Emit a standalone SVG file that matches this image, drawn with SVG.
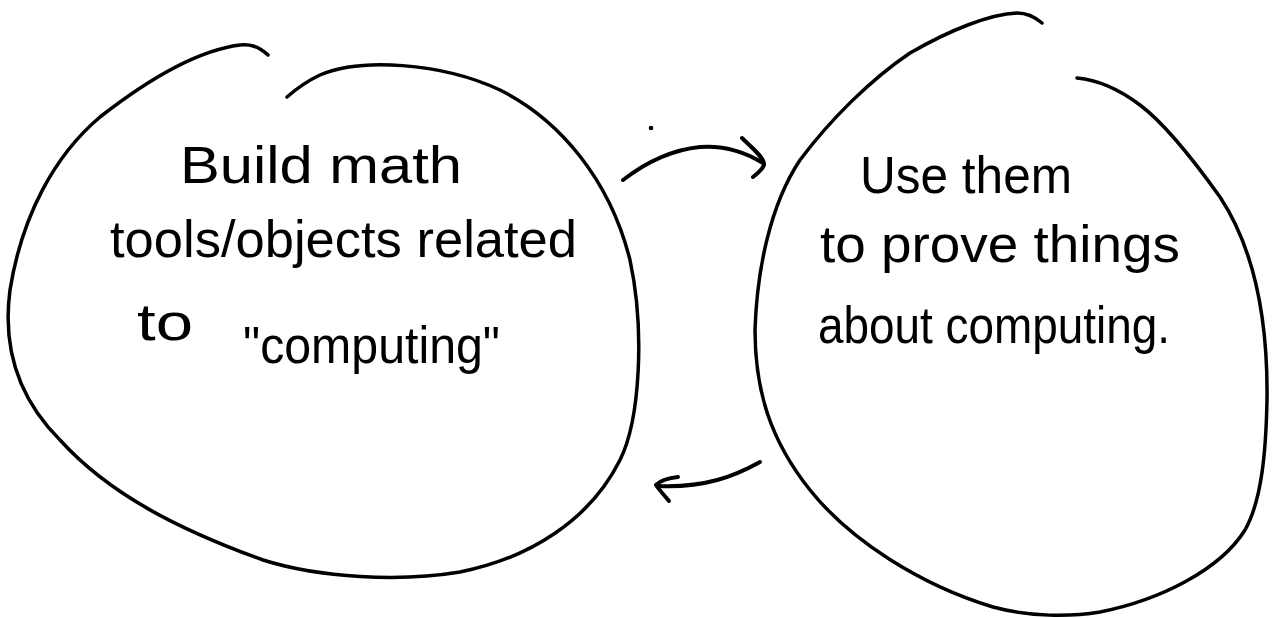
<svg xmlns="http://www.w3.org/2000/svg" width="1273" height="618" viewBox="0 0 1273 618">
<style>
.ink{fill:none;stroke:#000;stroke-width:3.5;stroke-linecap:round;stroke-linejoin:round}
.arrow{fill:none;stroke:#000;stroke-width:4;stroke-linecap:round;stroke-linejoin:round}
.hand{font-family:"Liberation Sans",Arial,sans-serif;fill:#000;font-size:52px}
</style>
<rect width="1273" height="618" fill="#fff"/>
<g id="node-build">
<path class="ink" d="M268,55 C258,46 250,44 240,45 C200,50 150,78 100,117 C55,155 22,215 10,290 C2,350 20,400 60,440 C110,495 180,530 263,560 C320,578 400,582 460,572 C530,558 590,520 620,460 C640,420 645,330 630,260 C610,180 560,120 500,90 C440,62 360,58 320,75 C305,82 295,90 287,97"/>
<text class="hand" x="180" y="183" font-size="56" textLength="282" lengthAdjust="spacingAndGlyphs">Build math</text>
<text class="hand" x="110" y="257" textLength="467" lengthAdjust="spacingAndGlyphs">tools/objects related</text>
<text class="hand" x="137" y="340" font-size="56" textLength="56" lengthAdjust="spacingAndGlyphs">to</text>
<text class="hand" x="243" y="363" textLength="257" lengthAdjust="spacingAndGlyphs">"computing"</text>
</g>
<g id="node-use">
<path class="ink" d="M1042,23 C1035,17 1027,13 1017,13 C990,14 950,30 910,53 C870,80 830,120 800,160 C770,205 757,270 755,330 C755,390 770,440 810,490 C850,540 920,585 993,607 C1030,617 1070,617 1100,612 C1160,600 1220,570 1245,530 C1262,500 1266,450 1267,400 C1268,320 1255,250 1220,197 C1190,155 1160,120 1140,105 C1120,90 1100,80 1077,78"/>
<text class="hand" x="860" y="193" font-size="56" textLength="212" lengthAdjust="spacingAndGlyphs">Use them</text>
<text class="hand" x="820" y="262" textLength="360" lengthAdjust="spacingAndGlyphs">to prove things</text>
<text class="hand" x="818" y="343" textLength="352" lengthAdjust="spacingAndGlyphs">about computing.</text>
</g>
<g id="connectors">
<path class="arrow" d="M623,180 C645,163 670,150 700,147 C725,145 745,152 763,163"/>
<path class="arrow" d="M742,138 C752,148 765,158 764,165 C762,170 757,174 753,177"/>
<path class="arrow" d="M760,462 C735,476 705,488 658,486"/>
<path class="arrow" d="M678,477 C668,478 660,481 656,485 C660,491 665,496 669,501"/>
</g>
<circle cx="651" cy="128" r="2.3" fill="#000"/>
</svg>
